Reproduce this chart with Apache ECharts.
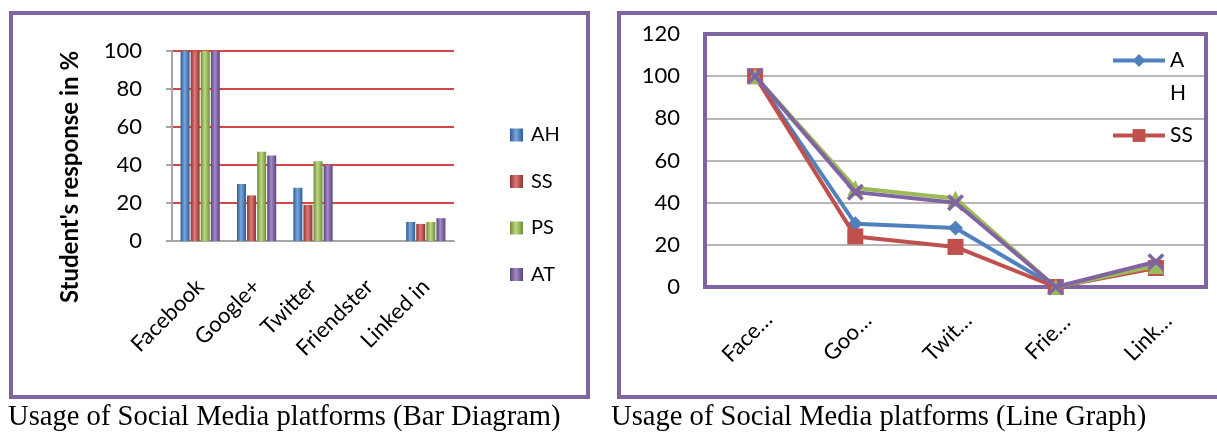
<!DOCTYPE html>
<html>
<head>
<meta charset="utf-8">
<script src="https://cdn.jsdelivr.net/npm/echarts@6/dist/echarts.min.js"></script>
<style>
html,body{margin:0;padding:0;background:#fff;}
#bar{position:absolute;left:0;top:0;width:605px;height:432px;}
#line{position:absolute;left:605px;top:0;width:612px;height:432px;}
</style>
</head>
<body>
<div id="bar"></div>
<div id="line"></div>
<script>
// ---- data ----
const categories = ['Facebook', 'Google+', 'Twitter', 'Friendster', 'Linked in'];
const lineTickLabels = ['Face…', 'Goo…', 'Twit…', 'Frie…', 'Link…'];
const seriesNames = ['AH', 'SS', 'PS', 'AT'];
const AH = [100, 30, 28, 0, 10];
const SS = [100, 24, 19, 0, 9];
const PS = [100, 47, 42, 0, 10];
const AT = [100, 45, 40, 0, 12];
const yTicksBar = [0, 20, 40, 60, 80, 100];
const yTicksLine = [0, 20, 40, 60, 80, 100, 120];
const barCaption = 'Usage of Social Media platforms (Bar Diagram)';
const lineCaption = 'Usage of Social Media platforms (Line Graph)';
const yAxisTitle = "Student's response in %";

const values = [AH, SS, PS, AT];
const colors = ['#4F81BD', '#C0504D', '#9BBB59', '#8064A2'];
const darks = ['#2f5b93', '#8f3331', '#6f8d35', '#5a437a'];
const lights = ['#7aa6dd', '#dd7a77', '#bcd883', '#a58ac6'];
const FONT = 'Lato, "Open Sans", sans-serif';
const SERIF = '"Liberation Serif", "Times New Roman", serif';

function cyl(i) {
  return new echarts.graphic.LinearGradient(0, 0, 1, 0, [
    {offset: 0, color: darks[i]},
    {offset: 0.45, color: lights[i]},
    {offset: 1, color: darks[i]}
  ]);
}

// ---- bar chart ----
const barChart = echarts.init(document.getElementById('bar'));
barChart.setOption({
  animation: false,
  color: colors,
  graphic: [
    {type: 'rect', shape: {x: 11, y: 13, width: 577, height: 384},
     style: {fill: 'none', stroke: '#8064A2', lineWidth: 4}},
    {type: 'text', style: {text: barCaption, x: 8, y: 403, fontSize: 28.6,
      fontFamily: SERIF, fill: '#000', verticalAlign: 'top'}}
  ],
  legend: {
    orient: 'vertical', left: 505, top: 118, itemWidth: 13, itemHeight: 13,
    itemGap: 22.5, icon: 'rect',
    textStyle: {fontSize: 20, fontFamily: FONT, color: '#000', lineHeight: 24, padding: [0, 0, 0, 3]},
    data: seriesNames
  },
  grid: {left: 172, top: 51, width: 282, bottom: 191, containLabel: false},
  xAxis: {
    type: 'category', data: categories,
    axisLine: {show: true, lineStyle: {color: '#a6a6a6', width: 2}},
    axisTick: {show: false},
    axisLabel: {rotate: 45, margin: 42, fontSize: 22, fontFamily: FONT, color: '#000',
      interval: 0}
  },
  yAxis: {
    type: 'value', min: yTicksBar[0], max: yTicksBar[yTicksBar.length - 1], interval: 20,
    name: yAxisTitle, nameLocation: 'middle', nameGap: 90, nameRotate: 90,
    nameTextStyle: {fontSize: 24, fontWeight: 'bold', fontFamily: FONT, color: '#000',
      padding: [0, 62, 0, 0]},
    axisLine: {show: true, lineStyle: {color: '#a6a6a6', width: 2}},
    axisTick: {show: true, length: 6, lineStyle: {color: '#a6a6a6', width: 2}},
    axisLabel: {fontSize: 22, fontFamily: FONT, color: '#000', margin: 30},
    splitLine: {show: true, lineStyle: {color: '#d24747', width: 2}}
  },
  series: seriesNames.map((n, i) => ({
    name: n, type: 'bar', data: values[i], barWidth: 9, barGap: '12%',
    itemStyle: {color: cyl(i)}
  }))
});

// ---- line chart ----
const xPath = 'path://M0,1.5 L1.5,0 L5,3.5 L8.5,0 L10,1.5 L6.5,5 L10,8.5 L8.5,10 L5,6.5 L1.5,10 L0,8.5 L3.5,5 Z';
const symbols = ['diamond', 'rect', 'triangle', xPath];
const symSizes = [15, 16, 16, 17];
const lineChart = echarts.init(document.getElementById('line'));
lineChart.setOption({
  animation: false,
  color: colors,
  graphic: [
    {type: 'rect', shape: {x: 14, y: 13, width: 700, height: 384},
     style: {fill: 'none', stroke: '#8064A2', lineWidth: 4}},
    {type: 'text', style: {text: lineCaption, x: 6, y: 403, fontSize: 28.6,
      fontFamily: SERIF, fill: '#000', verticalAlign: 'top'}}
  ],
  legend: {
    orient: 'vertical', left: 501, top: 6, itemWidth: 52, itemHeight: 16, itemGap: 9,
    data: ['AH', 'SS'],
    lineStyle: {width: 4},
    formatter: n => (n === 'AH' ? ' \nA\nH' : n),
    textStyle: {fontSize: 21, fontFamily: FONT, color: '#000', lineHeight: 33}
  },
  grid: {left: 100, right: 11, top: 34, bottom: 145, show: true,
    borderColor: '#8064A2', borderWidth: 4, backgroundColor: 'transparent', z: 5},
  xAxis: {
    type: 'category', data: categories, boundaryGap: true,
    axisLine: {show: false}, axisTick: {show: false},
    axisLabel: {rotate: 45, margin: 58, align: 'center', verticalAlign: 'bottom',
      fontSize: 22, fontFamily: FONT, color: '#000', interval: 0,
      formatter: (v, idx) => lineTickLabels[idx]}
  },
  yAxis: {
    type: 'value', min: yTicksLine[0], max: yTicksLine[yTicksLine.length - 1], interval: 20,
    axisLine: {show: false}, axisTick: {show: false},
    axisLabel: {fontSize: 22, fontFamily: FONT, color: '#000', margin: 25},
    splitLine: {show: true, lineStyle: {color: '#a0a0a0', width: 1.5}}
  },
  series: seriesNames.map((n, i) => ({
    name: n, type: 'line', data: values[i], symbol: symbols[i], symbolSize: symSizes[i],
    showSymbol: true, lineStyle: {width: 4, color: colors[i]},
    itemStyle: {color: colors[i]}, z: 6 + i
  }))
});
</script>
</body>
</html>
